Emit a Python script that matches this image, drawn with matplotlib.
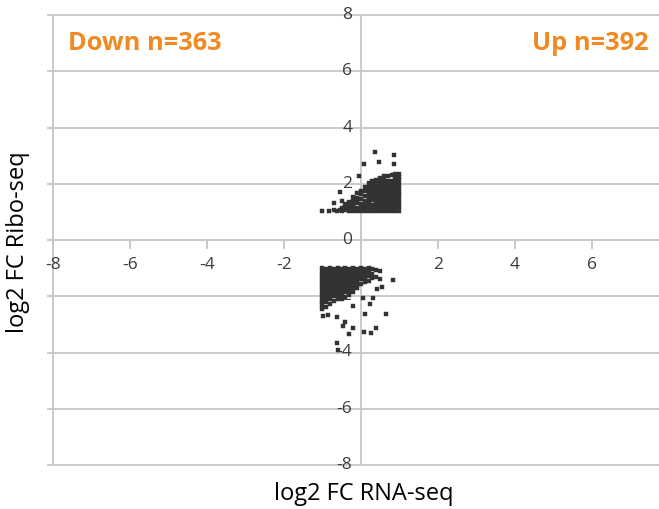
import matplotlib
matplotlib.use("Agg")
import matplotlib.pyplot as plt

plt.rcParams['font.family'] = ['Open Sans', 'DejaVu Sans']

# ---- data ----
up_x = [-1.0, -0.83, -0.7, -0.7, -0.63, -0.55, -0.55, -0.5, -0.5, -0.5,
        -0.4, -0.4, -0.4,
        -0.3, -0.3, -0.3, -0.3,
        -0.2, -0.2, -0.2, -0.2, -0.2,
        -0.1, -0.1, -0.1, -0.1, -0.1, -0.1,
        -0.05, 0.08, 0.36, 0.47, 0.86, 0.86,
        0.0, 0.0, 0.0, 0.0, 0.0, 0.0,
        0.1, 0.1, 0.1, 0.1, 0.1, 0.1, 0.1,
        0.2, 0.2, 0.2, 0.2, 0.2, 0.2, 0.2, 0.2, 0.2,
        0.3, 0.3, 0.3, 0.3, 0.3, 0.3, 0.3, 0.3, 0.3,
        0.4, 0.4, 0.4, 0.4, 0.4, 0.4, 0.4, 0.4, 0.4, 0.4,
        0.5, 0.5, 0.5, 0.5, 0.5, 0.5, 0.5, 0.5, 0.5, 0.5, 0.5,
        0.6, 0.6, 0.6, 0.6, 0.6, 0.6, 0.6, 0.6, 0.6, 0.6, 0.6,
        0.7, 0.7, 0.7, 0.7, 0.7, 0.7, 0.7, 0.7, 0.7, 0.7, 0.7,
        0.8, 0.8, 0.8, 0.8, 0.8, 0.8, 0.8, 0.8, 0.8, 0.8, 0.8,
        0.9, 0.9, 0.9, 0.9, 0.9, 0.9, 0.9, 0.9, 0.9, 0.9, 0.9, 0.9,
        0.98, 0.98, 0.98, 0.98, 0.98, 0.98, 0.98, 0.98, 0.98, 0.98, 0.98, 0.98]
up_y = [1.03, 1.03, 1.32, 1.05, 1.03, 1.71, 1.08, 1.39, 1.02, 1.15,
        1.05, 1.18, 1.28,
        1.02, 1.14, 1.26, 1.36,
        1.04, 1.16, 1.28, 1.40, 1.52,
        1.02, 1.14, 1.30, 1.38, 1.50, 1.66,
        2.28, 2.70, 3.13, 2.78, 3.02, 2.70,
        1.03, 1.15, 1.27, 1.45, 1.63, 1.75,
        1.02, 1.14, 1.26, 1.38, 1.58, 1.74, 1.90,
        1.04, 1.16, 1.28, 1.40, 1.52, 1.64, 1.76, 1.88, 2.02,
        1.02, 1.14, 1.26, 1.44, 1.56, 1.68, 1.80, 1.96, 2.10,
        1.03, 1.15, 1.27, 1.39, 1.51, 1.63, 1.75, 1.87, 1.99, 2.13,
        1.02, 1.14, 1.26, 1.38, 1.50, 1.62, 1.74, 1.86, 1.98, 2.10, 2.22,
        1.04, 1.16, 1.28, 1.40, 1.52, 1.64, 1.76, 1.88, 2.00, 2.12, 2.26,
        1.02, 1.14, 1.26, 1.38, 1.50, 1.62, 1.74, 1.86, 1.98, 2.10, 2.28,
        1.03, 1.15, 1.27, 1.39, 1.51, 1.63, 1.75, 1.87, 1.99, 2.11, 2.30,
        1.02, 1.14, 1.26, 1.38, 1.50, 1.62, 1.74, 1.86, 1.98, 2.10, 2.22, 2.34,
        1.04, 1.16, 1.28, 1.40, 1.52, 1.64, 1.76, 1.88, 2.00, 2.12, 2.24, 2.36]

down_x = [-1.0, -1.0, -1.0, -1.0, -1.0, -1.0, -1.0, -1.0, -1.0, -1.0, -1.0, -1.0, -1.0,
          -0.9, -0.9, -0.9, -0.9, -0.9, -0.9, -0.9, -0.9, -0.9, -0.9, -0.9, -0.9,
          -0.8, -0.8, -0.8, -0.8, -0.8, -0.8, -0.8, -0.8, -0.8, -0.8, -0.8,
          -0.7, -0.7, -0.7, -0.7, -0.7, -0.7, -0.7, -0.7, -0.7, -0.7,
          -0.6, -0.6, -0.6, -0.6, -0.6, -0.6, -0.6, -0.6, -0.6, -0.6,
          -0.5, -0.5, -0.5, -0.5, -0.5, -0.5, -0.5, -0.5, -0.5, -0.5,
          -0.4, -0.4, -0.4, -0.4, -0.4, -0.4, -0.4, -0.4, -0.4,
          -0.3, -0.3, -0.3, -0.3, -0.3, -0.3, -0.3, -0.3, -0.3,
          -0.2, -0.2, -0.2, -0.2, -0.2, -0.2, -0.2, -0.2,
          -0.1, -0.1, -0.1, -0.1, -0.1, -0.1, -0.1,
          0.0, 0.0, 0.0, 0.0, 0.0,
          0.1, 0.1, 0.1, 0.1, 0.1,
          0.2, 0.2, 0.2, 0.2,
          0.3, 0.3, 0.3, 0.4, 0.4, 0.5, 0.5,
          0.83, 0.55, 0.42, 0.05, 0.31, 0.23, 0.10, 0.65, -0.20, -0.99,
          -0.86, -0.63, -0.42, -0.47, -0.20, -0.31, 0.08, 0.26, 0.39, -0.63, -0.60]
down_y = [-1.00, -1.12, -1.24, -1.36, -1.48, -1.60, -1.72, -1.84, -1.96, -2.08, -2.20, -2.32, -2.45,
          -1.02, -1.14, -1.26, -1.38, -1.50, -1.62, -1.74, -1.86, -1.98, -2.10, -2.22, -2.38,
          -1.00, -1.12, -1.24, -1.36, -1.48, -1.60, -1.72, -1.84, -1.96, -2.10, -2.28,
          -1.03, -1.15, -1.27, -1.39, -1.51, -1.63, -1.75, -1.87, -2.00, -2.18,
          -1.01, -1.13, -1.25, -1.37, -1.49, -1.61, -1.73, -1.85, -1.97, -2.08,
          -1.02, -1.14, -1.26, -1.38, -1.50, -1.62, -1.74, -1.86, -1.98, -2.10,
          -1.00, -1.12, -1.24, -1.36, -1.48, -1.60, -1.72, -1.86, -2.02,
          -1.02, -1.14, -1.26, -1.38, -1.50, -1.62, -1.74, -1.84, -1.95,
          -1.01, -1.13, -1.25, -1.37, -1.49, -1.61, -1.73, -1.85,
          -1.03, -1.15, -1.27, -1.39, -1.51, -1.63, -1.72,
          -1.00, -1.12, -1.26, -1.40, -1.55,
          -1.02, -1.14, -1.28, -1.40, -1.50,
          -1.00, -1.14, -1.28, -1.45,
          -1.02, -1.20, -1.35, -1.05, -1.30, -1.10, -1.40,
          -1.42, -1.67, -1.74, -2.06, -2.06, -2.28, -2.63, -2.63, -2.35, -2.70,
          -2.67, -2.74, -2.92, -3.06, -3.13, -3.35, -3.27, -3.30, -3.13, -3.67, -3.90]

x_ticks = [-8, -6, -4, -2, 2, 4, 6]
y_ticks = [8, 6, 4, 2, 0, -2, -4, -6, -8]
xlabel = "log2 FC RNA-seq"
ylabel = "log2 FC Ribo-seq"
down_label = "Down n=363"
up_label = "Up n=392"

# ---- figure ----
fig = plt.figure(figsize=(6.59, 5.09), dpi=100)
ax = fig.add_axes([53/659, 1-465/509, 1-53/659, (465-15)/509])
ax.set_xlim(-8, 7.75)
ax.set_ylim(-8, 8)

grid_c = '#c6c6c6'
for s in ax.spines.values():
    s.set_visible(False)

for yv in y_ticks:
    ax.axhline(yv, color=grid_c, lw=1.3, zorder=1, clip_on=False)
    ax.plot([-8.12, -8], [yv, yv], color=grid_c, lw=1.3, clip_on=False, zorder=1)
ax.axvline(-8, color=grid_c, lw=1.3, zorder=1, clip_on=False)
ax.axvline(0, color=grid_c, lw=1.3, zorder=1)

ax.set_xticks([])
ax.set_yticks([])

tick_c = '#3c3c3c'
# x-axis ticks (hanging from y=0)
for xv in x_ticks:
    ax.plot([xv, xv], [0, -0.3], color=grid_c, lw=1.3, zorder=1, clip_on=False)
    ax.text(xv, -0.6, str(xv), ha='center', va='top', fontsize=12.5, color=tick_c)
for yv in y_ticks:
    ax.text(-0.22, yv, str(yv), ha='right', va='center', fontsize=12.5, color=tick_c)

ax.plot(up_x, up_y, 's', ms=3.0, color='#333333', mec='#333333', mew=0.3, zorder=3)
ax.plot(down_x, down_y, 's', ms=3.0, color='#333333', mec='#333333', mew=0.3, zorder=3)

orange = '#ef8a24'
fig.text(68/659, 1-43/509, down_label, ha='left', va='center', fontsize=18.3,
         fontweight='bold', color=orange)
fig.text(648/659, 1-43/509, up_label, ha='right', va='center', fontsize=18.3,
         fontweight='bold', color=orange)

fig.text(364/659, 1-494/509, xlabel, ha='center', va='center', fontsize=17, color='black')
fig.text(18/659, 1-242/509, ylabel, ha='center', va='center', fontsize=17,
         rotation=90, color='black')

fig.savefig('out.png', dpi=100)
